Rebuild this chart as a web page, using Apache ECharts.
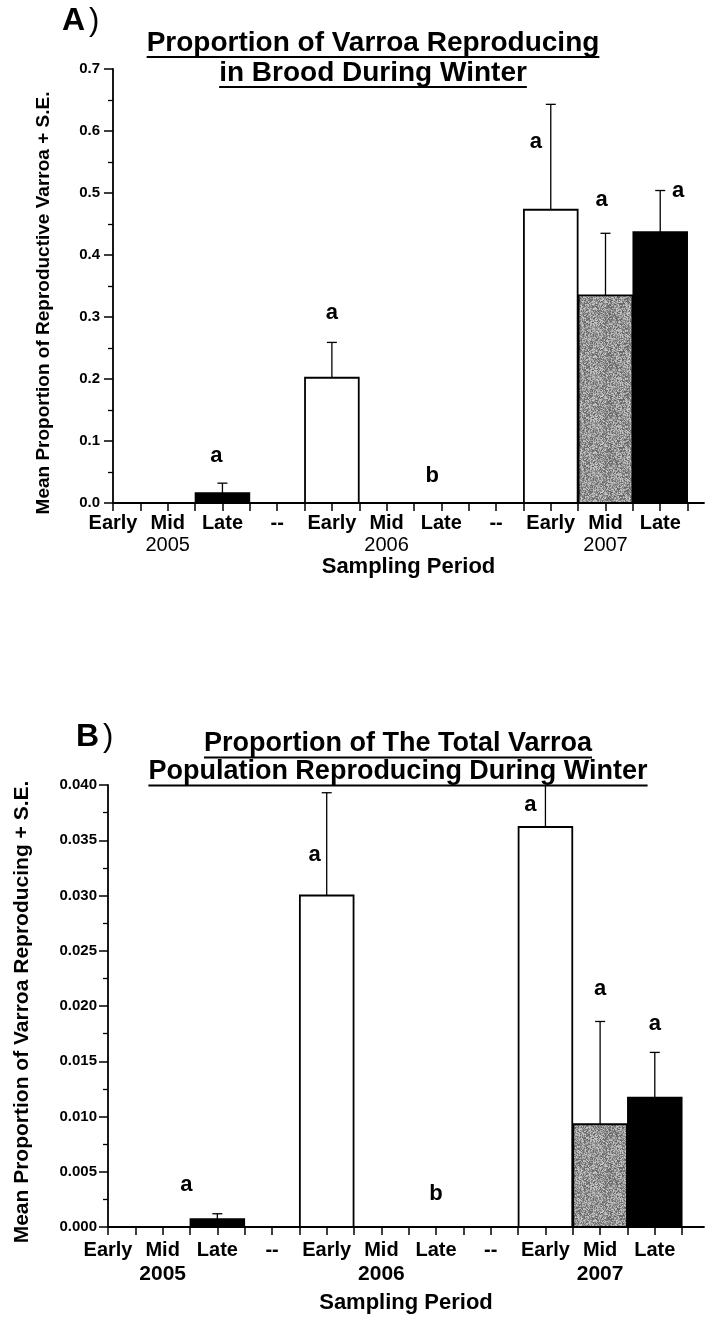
<!DOCTYPE html>
<html>
<head>
<meta charset="utf-8">
<script src="https://cdn.jsdelivr.net/npm/echarts@6/dist/echarts.min.js"></script>
<style>
  html, body { margin: 0; padding: 0; background: #fff; }
  #chart { width: 706px; height: 1319px; }
</style>
</head>
<body>
<div id="chart"></div>
<script>
// ---- data ----------------------------------------------------------------
// Sampling periods along the x axis (one slot per period, "--" separates years)
const periods = ['Early', 'Mid', 'Late', '--', 'Early', 'Mid', 'Late', '--', 'Early', 'Mid', 'Late'];
const years = ['2005', '2006', '2007'];
const yearSlots = [1, 5, 9];

// Panel A: proportion of Varroa reproducing in brood (mean and S.E.)
const meanA = [null, null, 0.016, null, 0.202, null, 0, null, 0.473, 0.335, 0.437];
const seA   = [null, null, 0.016, null, 0.057, null, null, null, 0.170, 0.100, 0.067];
const lettersA = [null, null, 'a', null, 'a', null, 'b', null, 'a', 'a', 'a'];
const yTicksA = [0, 0.1, 0.2, 0.3, 0.4, 0.5, 0.6, 0.7];

// Panel B: proportion of the total Varroa population reproducing (mean and S.E.)
const meanB = [null, null, 0.0007, null, 0.0300, null, 0, null, 0.0362, 0.0093, 0.0117];
const seB   = [null, null, 0.0005, null, 0.0093, null, null, null, 0.0083, 0.0093, 0.0041];
const lettersB = [null, null, 'a', null, 'a', null, 'b', null, 'a', 'a', 'a'];
const yTicksB = [0, 0.005, 0.010, 0.015, 0.020, 0.025, 0.030, 0.035, 0.040];

// ---- styling ---------------------------------------------------------------
const FONT = "'Liberation Sans', Arial, Helvetica, sans-serif";

// speckled grey fill for the "Mid" bars (deterministic dither)
function speckle() {
  const n = 48;
  const c = document.createElement('canvas');
  c.width = c.height = n;
  const g = c.getContext('2d');
  const img = g.createImageData(n, n);
  let s = 12345;
  for (let i = 0; i < n * n; i++) {
    s = (Math.imul(s, 1103515245) + 12345) >>> 0;
    const v = 95 + ((s >>> 16) % 110);
    img.data[i * 4] = img.data[i * 4 + 1] = img.data[i * 4 + 2] = v;
    img.data[i * 4 + 3] = 255;
  }
  g.putImageData(img, 0, 0);
  return c;
}
const greyPattern = { image: speckle(), repeat: 'repeat' };
const fillFor = { Early: '#ffffff', Mid: greyPattern, Late: '#000000' };

// pixel nudges for the significance letters, relative to the top of each error bar
const letterNudgeA = { 2: [-6, -27], 4: [0, -29], 6: [-9, -27], 8: [-15, 38], 9: [-4, -33], 10: [18, 0] };
const letterNudgeB = { 2: [-31, -29], 4: [-12, 62], 6: [0, -33], 8: [-15, 20], 9: [0, -33], 10: [0, -28] };

// ---- helpers ---------------------------------------------------------------
function barRows(mean) {
  const rows = [];
  mean.forEach((m, i) => { if (m !== null) rows.push([i, m]); });
  return rows;
}
function errRows(mean, se) {
  const rows = [];
  mean.forEach((m, i) => { if (m !== null && se[i] !== null) rows.push([i, m, m + se[i]]); });
  return rows;
}
function letterRows(mean, se, letters, yMax) {
  const rows = [];
  letters.forEach((l, i) => {
    if (l) rows.push([i, Math.min(mean[i] + (se[i] || 0), yMax)]);
  });
  return rows;
}

function xLabel(v) {
  const i = Math.round(v);
  const k = yearSlots.indexOf(i);
  const p = periods[i] || '';
  return k >= 0 ? '{p|' + p + '}\n{y|' + years[k] + '}' : '{p|' + p + '}';
}

function makeSeries(idx, mean, se, letters, nudge, yMax) {
  const barSeries = {
    type: 'custom', xAxisIndex: idx, yAxisIndex: idx, clip: true, z: 2,
    data: barRows(mean),
    renderItem(params, api) {
      const x = api.value(0), y = api.value(1);
      const p0 = api.coord([x - 0.5, 0]);
      const p1 = api.coord([x + 0.5, y]);
      return {
        type: 'rect',
        shape: { x: p0[0] + 0.5, y: p1[1], width: p1[0] - p0[0] - 1, height: p0[1] - p1[1] },
        style: { fill: fillFor[periods[x]], stroke: '#000', lineWidth: 1.8 }
      };
    }
  };
  const errSeries = {
    type: 'custom', xAxisIndex: idx, yAxisIndex: idx, clip: true, z: 3,
    data: errRows(mean, se),
    renderItem(params, api) {
      const x = api.value(0);
      const lo = api.coord([x, api.value(1)]);
      const hi = api.coord([x, api.value(2)]);
      return {
        type: 'group',
        children: [
          { type: 'line', shape: { x1: lo[0], y1: lo[1], x2: hi[0], y2: hi[1] }, style: { stroke: '#000', lineWidth: 1.3 } },
          { type: 'line', shape: { x1: hi[0] - 5, y1: hi[1], x2: hi[0] + 5, y2: hi[1] }, style: { stroke: '#000', lineWidth: 1.3 } }
        ]
      };
    }
  };
  const letterSeries = {
    type: 'custom', xAxisIndex: idx, yAxisIndex: idx, clip: false, z: 4,
    data: letterRows(mean, se, letters, yMax),
    renderItem(params, api) {
      const x = api.value(0);
      const p = api.coord([x, api.value(1)]);
      const d = nudge[x] || [0, -28];
      return {
        type: 'text', x: p[0] + d[0], y: p[1] + d[1],
        style: {
          text: letters[x], fill: '#000', align: 'center', verticalAlign: 'middle',
          fontFamily: FONT, fontWeight: 'bold', fontSize: 22
        }
      };
    }
  };
  return [barSeries, errSeries, letterSeries];
}

// ---- titles, panel tags, rotated axis titles --------------------------------
const measureCtx = document.createElement('canvas').getContext('2d');
function titleLines(lines, cx, size) {
  const els = [];
  measureCtx.font = 'bold ' + size + 'px ' + FONT;
  lines.forEach(([txt, cy]) => {
    const w = measureCtx.measureText(txt).width;
    els.push({
      type: 'text', x: cx, y: cy,
      style: { text: txt, fill: '#000', align: 'center', verticalAlign: 'middle', fontFamily: FONT, fontWeight: 'bold', fontSize: size }
    });
    els.push({
      type: 'line', shape: { x1: cx - w / 2, y1: cy + size * 0.5, x2: cx + w / 2, y2: cy + size * 0.5 },
      style: { stroke: '#000', lineWidth: 2 }
    });
  });
  return els;
}
function panelTag(letter, x, y) {
  return {
    type: 'text', x: x, y: y,
    style: {
      text: '{a|' + letter + '}{b|)}', fill: '#000', align: 'left', verticalAlign: 'middle',
      rich: {
        a: { fontFamily: FONT, fontWeight: 'bold', fontSize: 32 },
        b: { fontFamily: FONT, fontWeight: 'normal', fontSize: 31, padding: [0, 0, 0, 4] }
      }
    }
  };
}
function sideTitle(txt, cx, cy, size) {
  return {
    type: 'text', x: cx, y: cy, rotation: Math.PI / 2,
    style: { text: txt, fill: '#000', align: 'center', verticalAlign: 'middle', fontFamily: FONT, fontWeight: 'bold', fontSize: size }
  };
}

// ---- axes ------------------------------------------------------------------
function xAxisCfg(idx, max, yearStyle, margin, nameGap) {
  const ticks = [];
  for (let v = 0; v <= 10.5; v += 0.5) ticks.push(v);
  return {
    type: 'value', gridIndex: idx, min: 0, max: max,
    axisLine: { show: true, onZero: false, lineStyle: { color: '#000', width: 1.8 } },
    axisTick: { show: true, customValues: ticks, length: 8, lineStyle: { color: '#000', width: 1.5 } },
    splitLine: { show: false },
    axisLabel: {
      customValues: periods.map((_, i) => i), margin: margin,
      formatter: xLabel,
      rich: {
        p: { fontFamily: FONT, fontWeight: 'bold', fontSize: 20, color: '#000', lineHeight: 22 },
        y: yearStyle
      }
    },
    name: 'Sampling Period', nameLocation: 'middle', nameGap: nameGap,
    nameTextStyle: { fontFamily: FONT, fontWeight: 'bold', fontSize: 22, color: '#000' }
  };
}
function yAxisCfg(idx, ticks, digits, margin) {
  const step = ticks[1] - ticks[0];
  return {
    type: 'value', gridIndex: idx, min: ticks[0], max: ticks[ticks.length - 1], interval: step,
    axisLine: { show: true, lineStyle: { color: '#000', width: 1.8 } },
    axisTick: { show: true, length: 9, lineStyle: { color: '#000', width: 1.5 } },
    minorTick: { show: true, splitNumber: 2, length: 5, lineStyle: { color: '#000', width: 1.3 } },
    splitLine: { show: false },
    axisLabel: {
      margin: margin, formatter: (v) => v.toFixed(digits),
      fontFamily: FONT, fontWeight: 'bold', fontSize: 15, color: '#000'
    }
  };
}

const chart = echarts.init(document.getElementById('chart'), null, { renderer: 'canvas' });
chart.setOption({
  backgroundColor: '#ffffff',
  animation: false,
  grid: [
    { left: 113, top: 69, width: 591, height: 434 },
    { left: 108, top: 785, width: 596, height: 442 }
  ],
  xAxis: [
    xAxisCfg(0, 10.8, { fontFamily: FONT, fontWeight: 'normal', fontSize: 20, color: '#000', lineHeight: 22 }, 9, 51),
    xAxisCfg(1, 10.9, { fontFamily: FONT, fontWeight: 'bold', fontSize: 21, color: '#000', lineHeight: 26 }, 12, 65)
  ],
  yAxis: [
    yAxisCfg(0, yTicksA, 1, 13),
    yAxisCfg(1, yTicksB, 3, 11)
  ],
  graphic: [
    panelTag('A', 62, 21),
    ...titleLines([['Proportion of Varroa Reproducing', 43], ['in Brood During Winter', 73]], 373, 28),
    sideTitle('Mean Proportion of Reproductive Varroa + S.E.', 44, 303, 19),
    panelTag('B', 76, 737),
    ...titleLines([['Proportion of The Total Varroa', 744], ['Population Reproducing During Winter', 772]], 398, 27),
    sideTitle('Mean Proportion of Varroa Reproducing + S.E.', 22, 1012, 21)
  ],
  series: [
    ...makeSeries(0, meanA, seA, lettersA, letterNudgeA, 0.7),
    ...makeSeries(1, meanB, seB, lettersB, letterNudgeB, 0.04)
  ]
});
</script>
</body>
</html>
